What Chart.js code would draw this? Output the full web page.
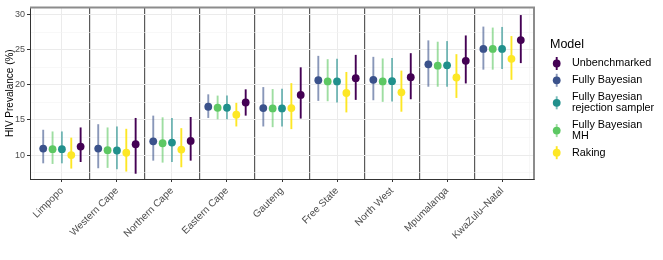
<!DOCTYPE html>
<html>
<head>
<meta charset="utf-8">
<script src="https://cdn.jsdelivr.net/npm/chart.js@4.4.1/dist/chart.umd.min.js"></script>
<style>
  html, body { margin: 0; padding: 0; background: #fff; }
  #wrap { width: 663px; height: 260px; }
</style>
</head>
<body>
<div id="wrap"><canvas id="prevalence" width="663" height="260"></canvas></div>
<script>
// provinces on the x axis
const provinces = ['Limpopo', 'Western Cape', 'Northern Cape', 'Eastern Cape', 'Gauteng',
  'Free State', 'North West', 'Mpumalanga', 'KwaZulu\u2013Natal'];
const yTicks = [10, 15, 20, 25, 30];

// Fully Bayesian
const fbMid = [10.93, 10.93, 11.96, 16.87, 16.68, 20.65, 20.70, 22.90, 25.09];
const fbLo  = [8.83, 8.13, 9.21, 15.28, 14.07, 17.71, 17.80, 19.72, 22.15];
const fbHi  = [13.60, 14.39, 15.61, 18.64, 19.67, 24.11, 23.97, 26.31, 28.27];
// Fully Bayesian MH
const mhMid = [10.84, 10.70, 11.68, 16.73, 16.64, 20.47, 20.47, 22.71, 25.09];
const mhLo  = [8.74, 8.18, 8.93, 15.09, 13.97, 17.66, 17.57, 19.72, 22.15];
const mhHi  = [13.36, 13.93, 15.37, 18.46, 19.39, 23.64, 23.74, 26.12, 28.13];
// Fully Bayesian rejection sampler
const rsMid = [10.84, 10.65, 11.78, 16.73, 16.64, 20.47, 20.51, 22.76, 25.09];
const rsLo  = [8.83, 7.99, 9.02, 15.09, 14.07, 17.48, 17.62, 19.72, 22.24];
const rsHi  = [13.36, 14.07, 15.28, 18.46, 19.44, 23.69, 23.79, 26.21, 28.22];
// Raking
const rkMid = [10.00, 10.33, 10.79, 15.75, 16.68, 18.83, 18.93, 21.03, 23.69];
const rkLo  = [8.08, 7.66, 8.27, 14.07, 13.69, 16.07, 16.17, 18.13, 20.70];
const rkHi  = [12.48, 13.74, 13.83, 17.43, 20.23, 21.82, 22.01, 24.35, 26.92];
// Unbenchmarked
const unMid = [11.21, 11.54, 12.01, 17.48, 18.55, 20.93, 21.07, 23.41, 26.36];
const unLo  = [9.02, 7.35, 9.21, 15.61, 15.19, 17.85, 17.94, 20.19, 23.08];
const unHi  = [13.93, 15.28, 15.42, 19.35, 22.48, 24.25, 24.49, 27.01, 29.91];

const FONT = '"Liberation Sans", Arial, Helvetica, sans-serif';

function series(label, color, barColor, offset, mid, lo, hi) {
  return {
    label: label,
    data: mid.map((v, i) => ({ x: i + 1 + offset, y: v })),
    lo: lo,
    hi: hi,
    barColor: barColor,
    backgroundColor: color,
    borderColor: color,
    pointRadius: 3.9,
    pointBorderWidth: 0,
    pointHoverRadius: 3.9
  };
}

const datasets = [
  series('Fully Bayesian', '#3B528B', 'rgba(59,82,139,0.6)', -0.34, fbMid, fbLo, fbHi),
  series('Fully Bayesian MH', '#5DC863', 'rgba(93,200,99,0.6)', -0.17, mhMid, mhLo, mhHi),
  series('Fully Bayesian rejection sampler', '#21908C', 'rgba(33,144,140,0.6)', 0, rsMid, rsLo, rsHi),
  series('Raking', '#FDE725', '#FDE725', 0.17, rkMid, rkLo, rkHi),
  series('Unbenchmarked', '#440154', '#440154', 0.34, unMid, unLo, unHi)
];

// legend entries in ggplot order, multi-line labels
const legendItems = [
  { lines: ['Unbenchmarked'], ds: 4 },
  { lines: ['Fully Bayesian'], ds: 0 },
  { lines: ['Fully Bayesian', 'rejection sampler'], ds: 2 },
  { lines: ['Fully Bayesian', 'MH'], ds: 1 },
  { lines: ['Raking'], ds: 3 }
];

const errorBars = {
  id: 'errorBars',
  beforeDatasetsDraw(chart) {
    const ctx = chart.ctx, xs = chart.scales.x, ys = chart.scales.y;
    ctx.save();
    chart.data.datasets.forEach(ds => {
      ctx.strokeStyle = ds.barColor;
      ctx.lineWidth = 1.9;
      ds.data.forEach((p, i) => {
        const x = xs.getPixelForValue(p.x);
        ctx.beginPath();
        ctx.moveTo(x, ys.getPixelForValue(ds.lo[i]));
        ctx.lineTo(x, ys.getPixelForValue(ds.hi[i]));
        ctx.stroke();
      });
    });
    ctx.restore();
  }
};

const panelFrame = {
  id: 'panelFrame',
  afterDatasetsDraw(chart) {
    const ctx = chart.ctx, a = chart.chartArea;
    ctx.save();
    ctx.strokeStyle = '#8c8c8c';
    ctx.lineWidth = 2;
    ctx.beginPath();
    ctx.moveTo(a.left, a.top);
    ctx.lineTo(a.right, a.top);
    ctx.lineTo(a.right, a.bottom);
    ctx.stroke();
    ctx.restore();
  }
};

const sideLegend = {
  id: 'sideLegend',
  afterDraw(chart) {
    const ctx = chart.ctx;
    ctx.save();
    ctx.fillStyle = '#000';
    ctx.textBaseline = 'middle';
    ctx.font = '12.5px ' + FONT;
    ctx.fillText('Model', 550, 44.5);
    ctx.font = '10.8px ' + FONT;
    let y = 63.5;
    legendItems.forEach(item => {
      const ds = chart.data.datasets[item.ds];
      const n = item.lines.length;
      const cy = y + (n - 1) * 5.7;
      ctx.strokeStyle = ds.barColor;
      ctx.lineWidth = 1.9;
      ctx.beginPath();
      ctx.moveTo(556.7, cy - 6.5);
      ctx.lineTo(556.7, cy + 6.5);
      ctx.stroke();
      ctx.fillStyle = ds.backgroundColor;
      ctx.beginPath();
      ctx.arc(556.7, cy, 3.9, 0, Math.PI * 2);
      ctx.fill();
      ctx.fillStyle = '#000';
      item.lines.forEach((t, k) => ctx.fillText(t, 572, y + k * 11.4));
      y += n === 1 ? 16.8 : 27.8;
    });
    ctx.restore();
  }
};

const ctx = document.getElementById('prevalence').getContext('2d');
const chart = new Chart(ctx, {
  type: 'scatter',
  data: { datasets: datasets },
  plugins: [errorBars, panelFrame, sideLegend],
  options: {
    responsive: false,
    animation: false,
    events: [],
    layout: { padding: { top: 5, right: 129, left: 0, bottom: 0 } },
    plugins: { legend: { display: false }, tooltip: { enabled: false } },
    scales: {
      x: {
        type: 'linear',
        min: 0.42,
        max: 9.58,
        afterBuildTicks: s => {
          const t = [];
          for (let v = 0.5; v <= 9.5; v += 0.5) t.push({ value: v });
          s.ticks = t;
        },
        afterFit: s => { s.height = 81; },
        ticks: {
          autoSkip: false,
          minRotation: 45,
          maxRotation: 45,
          padding: 3,
          color: '#4D4D4D',
          font: { family: FONT, size: 10 },
          callback: v => Number.isInteger(v) ? provinces[v - 1] : ''
        },
        grid: {
          color: c => {
            const v = c.tick.value;
            if (Number.isInteger(v)) return '#EBEBEB';
            if (v > 1 && v < 9) return '#5a5a5a';
            return '#F2F2F2';
          },
          lineWidth: c => {
            const v = c.tick.value;
            if (Number.isInteger(v)) return 1;
            if (v > 1 && v < 9) return 1.2;
            return 0.6;
          },
          tickColor: c => Number.isInteger(c.tick.value) ? '#333333' : 'rgba(0,0,0,0)',
          tickLength: 3,
          drawTicks: true
        },
        border: { color: '#333333', width: 1 }
      },
      y: {
        min: 6.6,
        max: 31.0,
        afterBuildTicks: s => {
          const t = [];
          for (let v = 7.5; v <= 30; v += 2.5) t.push({ value: v });
          s.ticks = t;
        },
        afterFit: s => { s.width = 30; },
        title: {
          display: true,
          text: 'HIV Prevalance (%)',
          color: '#000',
          font: { family: FONT, size: 10 },
          padding: { top: 4, bottom: 0 }
        },
        ticks: {
          autoSkip: false,
          padding: 2,
          color: '#4D4D4D',
          font: { family: FONT, size: 9 },
          callback: v => yTicks.includes(v) ? String(v) : ''
        },
        grid: {
          color: c => yTicks.includes(c.tick.value) ? '#EBEBEB' : '#F4F4F4',
          lineWidth: c => yTicks.includes(c.tick.value) ? 1 : 0.6,
          tickColor: c => yTicks.includes(c.tick.value) ? '#333333' : 'rgba(0,0,0,0)',
          tickLength: 3
        },
        border: { color: '#333333', width: 1 }
      }
    }
  }
});
</script>
</body>
</html>
